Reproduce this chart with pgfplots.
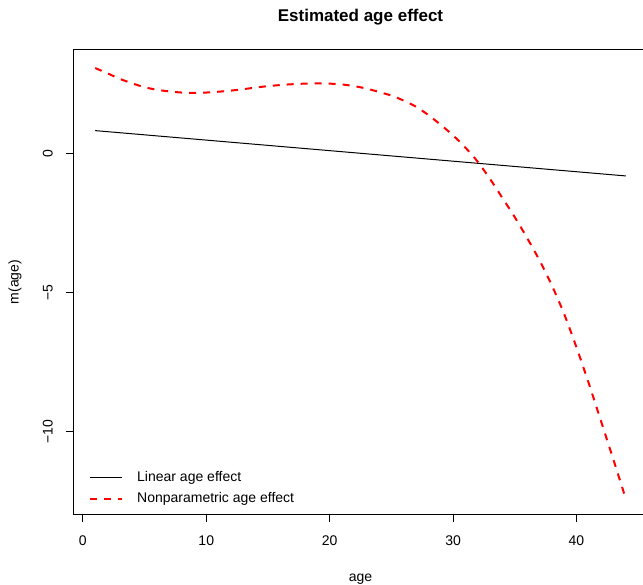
\documentclass[border=0pt]{standalone}
\usepackage{fontspec}
\setmainfont{Liberation Sans}
\usepackage{pgfplots}
\pgfplotsset{compat=1.18}
\begin{document}
\fontsize{14bp}{16bp}\selectfont
\begin{tikzpicture}
\path[use as bounding box] (-74bp,-71bp) rectangle (569bp,514bp);
\begin{axis}[
  at={(0,0)}, anchor=south west,
  scale only axis, width=573bp, height=464bp,
  xmin=-0.72, xmax=45.72, ymin=-12.95, ymax=3.74,
  axis line style={line width=1bp, black},
  tick align=outside, major tick length=8bp,
  tick style={line width=1bp, black},
  xtick pos=bottom, ytick pos=left,
  xtick={0,10,20,30,40}, xticklabels={0,10,20,30,40},
  ytick={-10,-5,0}, yticklabels={−10,−5,0},
  ticklabel style={font=\fontsize{14bp}{16bp}\selectfont, inner sep=0pt},
  xticklabel style={anchor=north},
  yticklabel style={rotate=90, anchor=south},
  xticklabel shift=14bp, yticklabel shift=13bp,
  every axis x label/.style={at={(axis description cs:0.5,-0.1401)}, anchor=center},
  every axis y label/.style={at={(axis description cs:-0.1030,0.5)}, rotate=90, anchor=center},
  every axis title/.style={at={(axis description cs:0.5,1.070)}, anchor=center},
  label style={font=\fontsize{14bp}{16bp}\selectfont},
  title style={font=\bfseries\fontsize{17bp}{20bp}\selectfont},
  title={Estimated age effect},
  xlabel={age}, ylabel={m(age)},
  legend style={draw=none, fill=none, at={(axis description cs:0,0)}, anchor=south west,
    font=\fontsize{14bp}{16bp}\selectfont, cells={anchor=west}, row sep=5bp,
    column sep=12bp, inner xsep=15bp, inner ysep=7bp},
  legend image code/.code={\draw[#1] (0bp,0bp) -- (32bp,0bp);},
]
\addplot[black, line width=1bp] coordinates {(1,0.84) (44,-0.79)};
\addlegendentry{Linear age effect}
\addplot[red, line width=2bp, dash pattern=on 7bp off 7bp, smooth] coordinates {
(1,3.09) (2,2.90) (3,2.70) (4,2.54) (5,2.40) (6,2.31) (7,2.25) (8,2.21) (9,2.20)
(10,2.21) (11,2.24) (12,2.28) (13,2.33) (14,2.39) (15,2.44) (16,2.48) (17,2.51)
(18,2.53) (19,2.54) (20,2.53) (21,2.50) (22,2.44) (23,2.35) (24,2.23) (25,2.10)
(26,1.92) (27,1.70) (28,1.40) (29,1.05) (30,0.67) (31,0.23) (32,-0.28) (33,-0.90)
(34,-1.58) (35,-2.27) (36,-3.02) (37,-3.82) (38,-4.72) (39,-5.75) (40,-6.95)
(41,-8.25) (42,-9.62) (43,-11.00) (44,-12.40)};
\addlegendentry{Nonparametric age effect}
\end{axis}
\end{tikzpicture}
\end{document}
